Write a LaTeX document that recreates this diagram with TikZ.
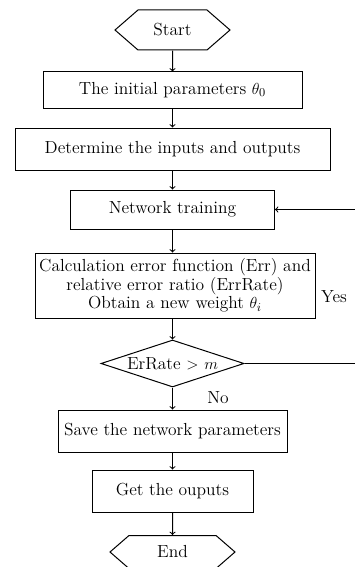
\documentclass[tikz,border=0pt]{standalone}
\usetikzlibrary{shapes.geometric,shapes.symbols}
\begin{document}
\begin{tikzpicture}[x=0.75pt,y=0.75pt,yscale=-1,xscale=1,
    font=\fontsize{13.1}{14}\selectfont,
    procbox/.style={draw,line width=0.75,inner sep=0.75pt,align=center},
    terminal/.style={draw,line width=0.75,signal,signal to=west and east,signal pointer angle=82,inner sep=0.75pt},
    decision/.style={draw,line width=0.75,diamond,aspect=3.04,inner sep=0.75pt},
    flow/.style={->,line width=0.75}]
    \useasboundingbox (0,0) rectangle (354,567);

    \node [terminal,minimum width=86.25pt,minimum height=30pt] (start) at (172.5,30) {Start};
    \node [procbox,minimum width=194.25pt,minimum height=27pt] (init) at (172.5,90) {The initial parameters $\theta_0$};
    \node [procbox,minimum width=236.25pt,minimum height=31.5pt] (inout) at (172.5,149) {Determine the inputs and outputs};
    \node [procbox,minimum width=153pt,minimum height=29.25pt] (train) at (172.5,209.5) {Network training};
    \node [procbox,minimum width=210pt,minimum height=48.75pt] (calc) at (175,285.5) {Calculation error function (Err) and\\relative error ratio (ErrRate)\\Obtain a new weight $\theta_i$};
    \node [decision,minimum width=107.25pt,minimum height=35.25pt] (check) at (172.5,363.5) {ErRate $>$ $m$};
    \node [procbox,minimum width=171.75pt,minimum height=31.5pt] (save) at (172.5,431) {Save the network parameters};
    \node [procbox,minimum width=120.75pt,minimum height=31.5pt] (getout) at (172.5,491) {Get the ouputs};
    \node [terminal,minimum width=93.75pt,minimum height=24.75pt] (stop) at (172.5,552) {End};
    \coordinate (loop) at (358,363.5);

    \draw [flow] (start) -- (init);
    \draw [flow] (init) -- (inout);
    \draw [flow] (inout) -- (train);
    \draw [flow] (train) -- (calc.north -| train.south);
    \draw [flow] (calc.south -| check.north) -- (check);
    \draw [flow] (check) -- (save);
    \draw [flow] (save) -- (getout);
    \draw [flow] (getout) -- (stop);
    \draw [flow] (check.east) -- (loop) |- (train.east);

    \node [inner sep=0.75pt] (yes) at (334,297) {Yes};
    \node [inner sep=0.75pt] (no) at (218,398) {No};
\end{tikzpicture}
\end{document}
